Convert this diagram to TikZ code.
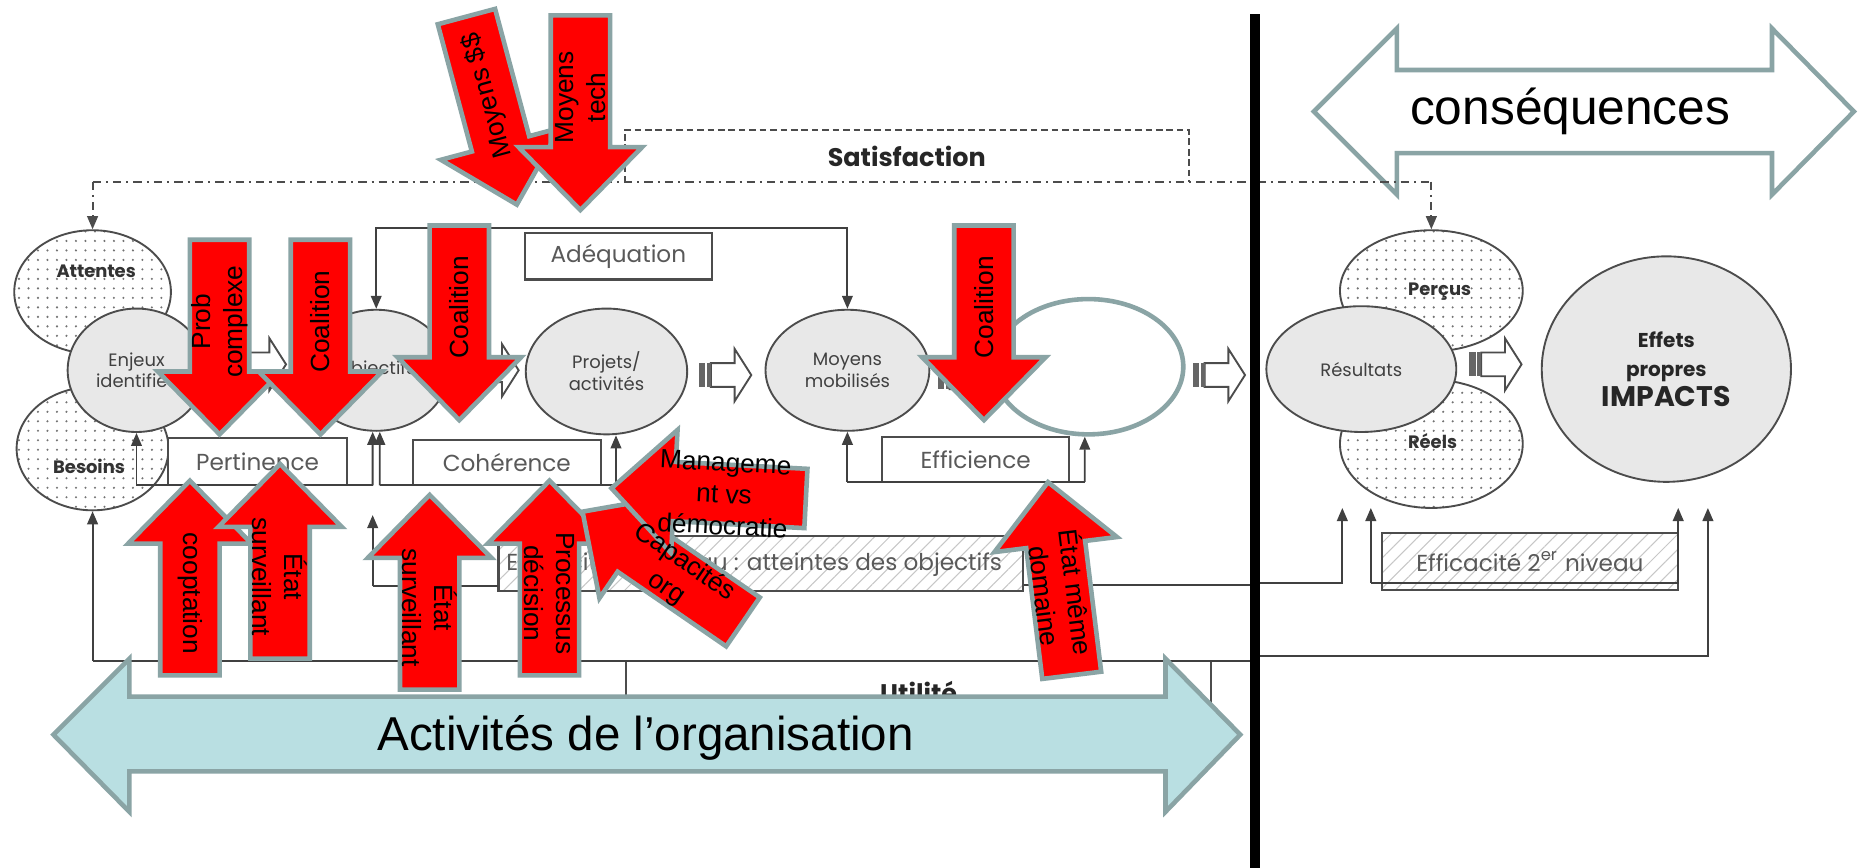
\documentclass[tikz,border=0pt]{standalone}
\usepackage{fontspec}
\setmainfont{Liberation Sans}
\newfontfamily\gothic{Poppins}
\usetikzlibrary{arrows.meta,shapes.geometric,patterns.meta,positioning}

\definecolor{arrowline}{RGB}{138,164,165}
\definecolor{redfill}{RGB}{255,0,0}
\definecolor{bluefill}{RGB}{185,223,226}

\pgfdeclarelayer{redlabels}
\pgfsetlayers{main,redlabels}

% red block arrow: name, tail point, direction, text angle, text
\newcommand{\redarrow}[5]{%
  \begin{scope}[shift={#2},rotate=#3]
    \draw[redarr] (0,-25) -- (111,-25) -- (111,-52) -- (164,0)
      -- (111,52) -- (111,25) -- (0,25) -- cycle;
    \begin{pgfonlayer}{redlabels}
      \node[redtext,rotate=#4] (#1) at (69,0) {#5};
    \end{pgfonlayer}
  \end{scope}}

% small hollow arrow between two stages
\newcommand{\flowarrow}[1]{%
  \begin{scope}[shift={#1}]
    \draw[flow] (10,-10) -- (30,-10) -- (30,-22) -- (44,0) -- (30,22)
      -- (30,10) -- (10,10) -- cycle;
    \fill[black!60] (0,-10) rectangle (10,10);
    \draw[white,line width=0.4pt] (6,-10) -- (6,10);
  \end{scope}}

\begin{document}
\begin{tikzpicture}[x=0.1mm,y=-0.1mm,
    grayell/.style={ellipse,draw=black!70,fill=black!9,line width=0.45pt,
      inner sep=0pt,align=center,text=black!75,
      font=\gothic\fontsize{4.3}{5.2}\selectfont},
    dotell/.style={ellipse,draw=black!70,line width=0.45pt,inner sep=0pt,
      preaction={fill=white},pattern={Dots[distance=0.8mm,radius=0.28pt]},
      pattern color=black!55},
    dottext/.style={inner sep=0pt,text=black!80,
      font=\gothic\bfseries\fontsize{4.3}{5}\selectfont},
    labelbox/.style={draw=black!70,fill=white,line width=0.5pt,inner sep=0pt,
      text=black!65,font=\gothic\fontsize{5.55}{6.5}\selectfont},
    hatchbox/.style={draw=black!70,line width=0.5pt,inner sep=0pt,
      preaction={fill=white},pattern={Lines[angle=45,distance=0.9mm,line width=0.25pt]},
      pattern color=black!22,text=black!65,font=\gothic\fontsize{5.55}{6.5}\selectfont},
    gothtext/.style={inner sep=0pt,text=black!65,font=\gothic\fontsize{5.55}{6.5}\selectfont},
    boldtext/.style={inner sep=0pt,text=black!85,font=\gothic\bfseries\fontsize{6.1}{7}\selectfont},
    fb/.style={draw=black!75,line width=0.45pt},
    fbarrow/.style={fb,-{Triangle[length=1.1mm,width=0.9mm]}},
    dashdot/.style={draw=black!70,line width=0.45pt,
      dash pattern=on 2pt off 1.2pt on 0.5pt off 1.2pt},
    dashbox/.style={draw=black!70,line width=0.45pt,dash pattern=on 1.6pt off 0.9pt},
    flow/.style={draw=black!70,fill=white,line width=0.45pt},
    redarr/.style={draw=arrowline,fill=redfill,line width=1.1pt},
    redtext/.style={font=\fontsize{6.3}{7.6}\selectfont,align=center,inner sep=0pt},
    bigarrow/.style={draw=arrowline,line width=1.1pt}]

\useasboundingbox (0,0) rectangle (1568,731);
\fill[white] (0,0) rectangle (1568,731);

% conséquences
\draw[bigarrow,fill=white] (1107,94) -- (1177,24) -- (1177,59) -- (1493,59)
  -- (1493,24) -- (1562,94) -- (1493,164) -- (1493,129) -- (1177,129)
  -- (1177,164) -- cycle;
\node[font=\fontsize{11.9}{14}\selectfont] (conseq) at (1323,94) {conséquences};

% stages
\node[dotell,minimum width=13.2mm,minimum height=10.4mm] (attentes) at (78,246) {};
\node[dottext] (attentesl) at (81,229) {Attentes};
\node[dotell,minimum width=12.8mm,minimum height=10.4mm] (besoins) at (78,378) {};
\node[dottext] (besoinsl) at (75,393) {Besoins};
\node[grayell,minimum width=11.6mm,minimum height=10.4mm] (enjeux) at (115,312) {Enjeux\\identifiés};
\node[grayell,minimum width=12.2mm,minimum height=10.2mm] (objectifs) at (317,312) {Objectifs};
\node[grayell,minimum width=13.6mm,minimum height=10.6mm] (projets) at (511,313) {Projets/\\activités};
\node[grayell,minimum width=13.8mm,minimum height=10.2mm] (moyens) at (714,312) {Moyens\\mobilisés};

\node[dotell,minimum width=15.4mm,minimum height=10.2mm] (percus) at (1206,245) {};
\node[dottext] (percusl) at (1213,246) {Perçus};
\node[dotell,minimum width=15.4mm,minimum height=10.8mm] (reels) at (1206,374) {};
\node[dottext] (reelsl) at (1207,372) {Réels};
\node[grayell,minimum width=16mm,minimum height=10.6mm] (resultats) at (1147,311) {Résultats};
\node[grayell,minimum width=21mm,minimum height=19mm,text=black!85,
  font=\gothic\bfseries\fontsize{4.8}{7.1}\selectfont] (effets) at (1404,311)
  {Effets\\propres\\{\fontsize{6.8}{7.1}\selectfont IMPACTS}};

\flowarrow{(197,307)}
\flowarrow{(393,312)}
\flowarrow{(589,316)}
\flowarrow{(790,318)}
\flowarrow{(1005,316)}
\flowarrow{(1238,307)}

% boxes
\node[labelbox,minimum width=15.8mm,minimum height=3.9mm] (adeq) at (521,216) {Adéquation};
\node[labelbox,minimum width=15.1mm,minimum height=4mm] (pert) at (217,389) {Pertinence};
\node[labelbox,minimum width=15.8mm,minimum height=3.8mm] (coher) at (427,390) {Cohérence};
\node[labelbox,minimum width=15.8mm,minimum height=3.8mm] (effic) at (822,387) {Efficience};
\node[hatchbox,minimum width=44.2mm,minimum height=4.6mm] (eff1) at (641,475) {};
\node[gothtext,anchor=east] (eff1l) at (845,475)
  {Efficacité 1\textsuperscript{er} niveau : atteintes des objectifs};
\node[hatchbox,minimum width=24.9mm,minimum height=4.8mm] (eff2) at (1289,473)
  {Efficacité 2\textsuperscript{er} niveau};
\node[draw=black!70,line width=0.5pt,minimum width=49.3mm,minimum height=5.4mm] (utile) at (774,584) {};
\node[boldtext] (utilel) at (774,583) {Utilité};
\node[boldtext,minimum width=47.4mm,minimum height=4.3mm] (satisf) at (764,131.5) {Satisfaction};
\draw[dashbox] (satisf.south west) |- (satisf.north east) -- (satisf.south east);

\node[ellipse,draw=arrowline,line width=1.1pt,fill=white,minimum width=16mm,
  minimum height=11.4mm] (teal) at (917,309) {};

% feedback lines
\coordinate (satL) at (78,153);
\coordinate (satR) at (1206,153);
\draw[dashdot] (satL) -- (satR);
\draw[dashdot,-{Triangle[length=1.1mm,width=0.9mm]}] (satL) -- (attentes.north);
\draw[dashdot,-{Triangle[length=1.1mm,width=0.9mm]}] (satR) -- (percus.north);

\coordinate (adeqL) at (317,192);
\draw[fb,{Triangle[length=1.1mm,width=0.9mm]}-{Triangle[length=1.1mm,width=0.9mm]}]
  (objectifs.north) -- (adeqL) -| (moyens.north);

\coordinate (pertL) at (115,409);
\coordinate (pertR) at (314,409);
\coordinate (cohL) at (320,409);
\coordinate (cohR) at (519,409);
\draw[fb] (pertL) -- (pertR) (cohL) -- (cohR);
\draw[fbarrow] (pertL) -- (enjeux.south);
\draw[fbarrow] (pertR) -- ([xshift=-0.3mm]objectifs.south);
\draw[fbarrow] (cohL) -- ([xshift=0.3mm]objectifs.south);
\draw[fbarrow] (cohR) -- ([xshift=0.8mm]projets.south);

\coordinate (effL) at (714,406);
\coordinate (effR) at (914,406);
\draw[fb] (effL) -- (effR);
\draw[fbarrow] (effL) -- (moyens.south);
\draw[fbarrow] (effR) -- ([xshift=-0.3mm]teal.south);

\coordinate (e1L) at (314,494);
\coordinate (e1T) at (314,434);
\coordinate (e1R) at (1053,493);
\draw[fbarrow] (e1L) -- (e1T);
\draw[fb] (e1L) -- (e1L -| eff1.west);
\draw[fb] (eff1.east |- e1R) -- (e1R);

\coordinate (u0) at (78,557);
\coordinate (u1) at (1053,557);
\draw[fb] (u0) -- (u1);
\draw[fbarrow] (u0) -- (besoins.south);

\coordinate (r1) at (1062,491);
\coordinate (r1t) at (1131,428);
\coordinate (r2) at (1155,491);
\coordinate (r2t) at (1155,428);
\coordinate (r3t) at (1414,428);
\coordinate (r4) at (1062,553);
\coordinate (r4t) at (1439,428);
\draw[fbarrow] (r1) -| (r1t);
\draw[fbarrow] (r2) -- (r2t);
\draw[fbarrow] (r2) -| (r3t);
\draw[fbarrow] (r4) -| (r4t);

% red arrows
\redarrow{moydol}{(393,14)}{-75}{105}{Moyens \$\$}
\redarrow{moytech}{(489,13)}{-90}{90}{Moyens\\tech}
\redarrow{probc}{(185,202)}{-90}{90}{Prob\\complexe}
\redarrow{coal1}{(270,202)}{-90}{90}{Coalition}
\redarrow{coal2}{(387,190)}{-90}{90}{Coalition}
\redarrow{coal3}{(829,190)}{-90}{90}{Coalition}
\redarrow{coopt}{(160,569)}{90}{-90}{cooptation}
\redarrow{etat1}{(236,555)}{90}{-90}{État\\surveillant}
\redarrow{etat2}{(362,581)}{90}{-90}{État\\surveillant}
\redarrow{procd}{(463,569)}{90}{-90}{Processus\\décision}
\redarrow{capac}{(626,524)}{145.5}{-34.5}{Capacités\\org}
\redarrow{manag}{(679,420)}{177}{-3}{Manageme\\nt vs\\démocratie}
\redarrow{etatmd}{(903,569)}{97}{-83}{État même\\domaine}

% activités
\draw[bigarrow,fill=bluefill] (45,619) -- (109,555) -- (109,587) -- (982,587)
  -- (982,555) -- (1045,619) -- (982,684) -- (982,650) -- (109,650)
  -- (109,684) -- cycle;
\node[font=\fontsize{11.4}{13.7}\selectfont] (activites) at (544,622) {Activités de l’organisation};

% separation
\fill[black] (1053,12) rectangle (1062,731);
\end{tikzpicture}
\end{document}
